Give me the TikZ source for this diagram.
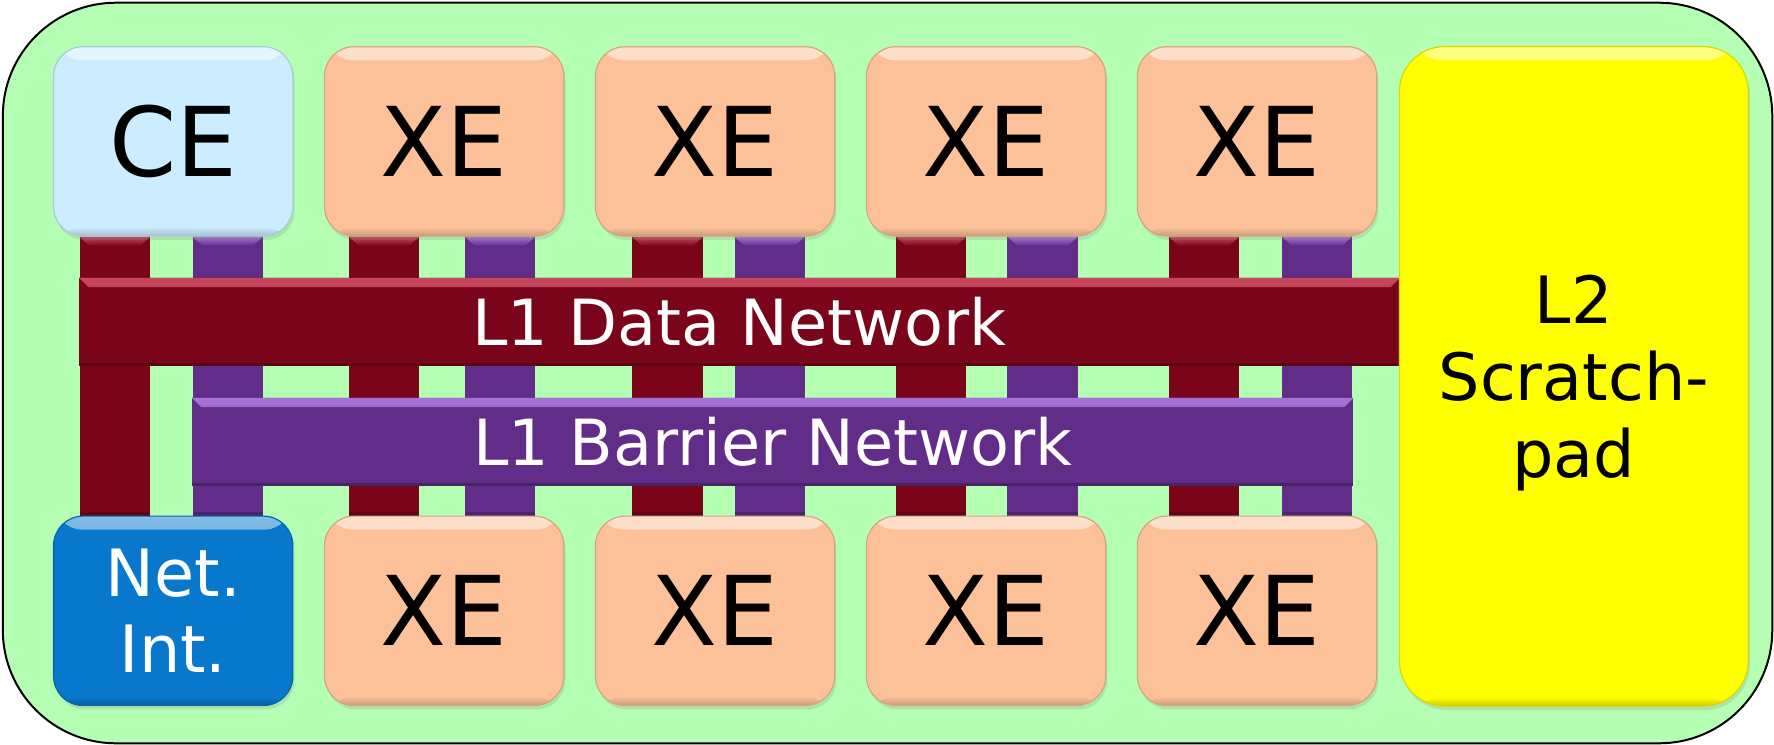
\documentclass[tikz,border=0pt]{standalone}
\usepackage{fontspec}
\setmainfont{DejaVu Sans}
\usetikzlibrary{shadows}
\definecolor{bggreen}{HTML}{B4FFB4}
\definecolor{ceblue}{HTML}{CCECFF}
\definecolor{xepeach}{HTML}{FCC198}
\definecolor{niblue}{HTML}{0778CB}
\definecolor{l2yellow}{HTML}{FFFF00}
\definecolor{darkred}{HTML}{7A051A}
\definecolor{redhi}{HTML}{C8475C}
\definecolor{purp}{HTML}{622D89}
\definecolor{purphi}{HTML}{A673D6}
\pgfdeclarelayer{bg}
\pgfdeclarelayer{bars}
\pgfsetlayers{bg,bars,main}
\newcommand\mybar[5]{%
  \path (#3,0 |- #4.south) coordinate (bt) (#3,0 |- #5.north) coordinate (bb);
  \fill[#1] (bt) rectangle ([xshift=0.62cm]bb);
  \fill[top color=#2, bottom color=#1] (bt) -- ([xshift=0.62cm]bt) -- ([xshift=0.54cm,yshift=-0.08cm]bt) -- ([xshift=0.08cm,yshift=-0.08cm]bt) -- cycle;
  \fill[#1!80!black] ([yshift=0.03cm]bb) rectangle ([xshift=0.62cm]bb);
}
\begin{document}
\begin{tikzpicture}[x=0.01cm,y=-0.01cm,
  unit/.style={rounded corners=0.26cm, inner sep=0pt, draw=#1!85!black, line width=0.3pt, fill=#1,
    drop shadow={shadow xshift=0.015cm, shadow yshift=-0.035cm, opacity=0.2},
    path picture={
      \fill[top color=#1!50!white, bottom color=#1] (path picture bounding box.north west) rectangle ([yshift=-0.12cm]path picture bounding box.north east);
      \fill[top color=#1, bottom color=#1!80!black] ([yshift=0.08cm]path picture bounding box.south west) rectangle (path picture bounding box.south east);}},
  small/.style={minimum width=2.114cm, minimum height=1.673cm},
  big/.style={font=\fontsize{24.2}{29}\selectfont},
  mid/.style={font=\fontsize{16.4}{19.3}\selectfont, align=center},
  netbar/.style 2 args={fill=#1, inner sep=0pt, minimum height=0.778cm, text=white,
    font=\fontsize{16}{19}\selectfont,
    path picture={
      \fill[top color=#2, bottom color=#1] (path picture bounding box.north west) -- (path picture bounding box.north east) -- ([xshift=-0.08cm,yshift=-0.08cm]path picture bounding box.north east) -- ([xshift=0.08cm,yshift=-0.08cm]path picture bounding box.north west) -- cycle;
      \fill[#1!75!black] (path picture bounding box.south west) rectangle ([yshift=0.03cm]path picture bounding box.south east);}}
]
\useasboundingbox (0,0) rectangle (1568,658);
\begin{pgfonlayer}{bg}
\fill[white] (0,0) rectangle (1568,658);
\draw[fill=bggreen, line width=0.5pt, rounded corners=1cm] (2.5,2.4) rectangle (1566.5,657);
\end{pgfonlayer}

\node[unit=ceblue, small, big] (ce) at (153.1,125) {CE};
\node[unit=niblue, small, mid, text=white] (ni) at (153.1,539.9) {Net.\\Int.};
\foreach \i in {1,...,4} {
  \node[unit=xepeach, small, big] (xt\i) at ({153.1+239.5*\i},125) {XE};
  \node[unit=xepeach, small, big] (xb\i) at ({153.1+239.5*\i},539.9) {XE};
}
\node[unit=l2yellow, rounded corners=0.4cm, minimum width=3.082cm, minimum height=5.827cm, mid, text depth=0pt] (l2) at (1391.1,332.65) {L2\\Scratch-\\pad};

\begin{pgfonlayer}{bars}
\foreach \t/\b/\rx/\px in {ce/ni/70.4/170.2, xt1/xb1/308.5/411, xt2/xb2/559/649.3, xt3/xb3/791.7/890.5, xt4/xb4/1033/1133} {
  \mybar{darkred}{redhi}{\rx}{\t}{\b}
  \mybar{purp}{purphi}{\px}{\t}{\b}
}
\node[netbar={darkred}{redhi}, minimum width=11.666cm] (data) at (653.7,284.6) {L1 Data Network};
\node[netbar={purp}{purphi}, minimum width=10.258cm] (barrier) at (683.1,390.7) {L1 Barrier Network};
\end{pgfonlayer}
\end{tikzpicture}
\end{document}
